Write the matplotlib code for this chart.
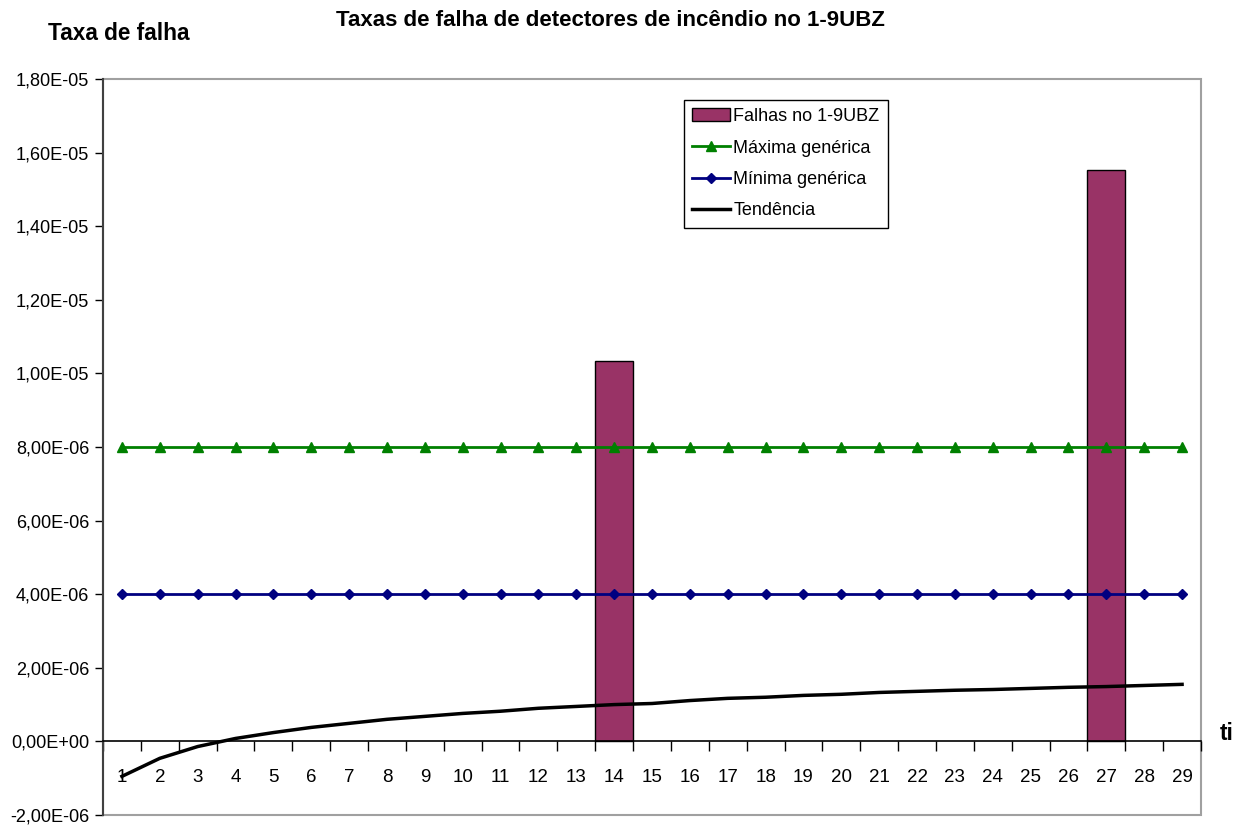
import matplotlib
matplotlib.use("Agg")
import matplotlib.pyplot as plt
from matplotlib.patches import Rectangle
from matplotlib.ticker import FuncFormatter, FixedLocator

plt.rcParams['font.family'] = ['Liberation Sans', 'DejaVu Sans']

categories = list(range(1, 30))
falhas = {14: 1.033e-05, 27: 1.554e-05}
maxima = [8.0e-06] * 29
minima = [4.0e-06] * 29
tendencia = [-0.95e-06, -0.46e-06, -0.14e-06, 0.08e-06, 0.24e-06, 0.38e-06,
             0.49e-06, 0.60e-06, 0.68e-06, 0.76e-06, 0.82e-06, 0.90e-06,
             0.95e-06, 1.00e-06, 1.03e-06, 1.11e-06, 1.17e-06, 1.20e-06,
             1.25e-06, 1.28e-06, 1.33e-06, 1.36e-06, 1.39e-06, 1.41e-06,
             1.44e-06, 1.47e-06, 1.49e-06, 1.52e-06, 1.55e-06]
yticks = [-2e-06, 0, 2e-06, 4e-06, 6e-06, 8e-06, 1e-05, 1.2e-05, 1.4e-05, 1.6e-05, 1.8e-05]

fig = plt.figure(figsize=(12.5, 8.27), dpi=100)
ax = fig.add_axes([103/1250, 12/827, 1098/1250, 736/827])

bx = list(falhas.keys())
bv = list(falhas.values())
hb = ax.bar(bx, bv, width=1.0, color='#993366', edgecolor='black', linewidth=1.0,
            label='Falhas no 1-9UBZ', zorder=2)
hmax, = ax.plot(categories, maxima, color='#008000', lw=2, marker='^', ms=7.5,
                label='Máxima genérica', zorder=3)
hmin, = ax.plot(categories, minima, color='#000080', lw=2, marker='D', ms=5.5,
                label='Mínima genérica', zorder=3)
htr, = ax.plot(categories, tendencia, color='black', lw=2.5, label='Tendência', zorder=4)

ax.set_xlim(0.5, 29.5)
ax.set_ylim(-2e-06, 1.8e-05)

def fmt(v, pos):
    if abs(v) < 1e-15:
        return '0,00E+00'
    s = '%.2E' % v
    return s.replace('.', ',')

ax.yaxis.set_major_locator(FixedLocator(yticks))
ax.yaxis.set_major_formatter(FuncFormatter(fmt))
ax.tick_params(axis='y', direction='out', length=6, width=1, color='black',
               labelsize=13.1, pad=4)

ax.set_xticks(categories)
ax.set_xticklabels([str(c) for c in categories])
ax.set_xticks([c + 0.5 for c in [0] + categories], minor=True)
ax.tick_params(axis='x', which='major', length=0, labelsize=13.5, pad=20)
ax.tick_params(axis='x', which='minor', direction='out', length=7, width=1, color='black')

for s in ['top', 'right']:
    ax.spines[s].set_visible(False)
ax.spines['bottom'].set_position(('data', 0))
ax.spines['bottom'].set_color('black')
ax.spines['bottom'].set_linewidth(1.2)
ax.spines['left'].set_color('#404040')
ax.spines['left'].set_linewidth(1.5)

frame = Rectangle((0, 0), 1, 1, transform=ax.transAxes, fill=False,
                  edgecolor='#a0a0a0', linewidth=1.5, clip_on=False, zorder=0)
ax.add_patch(frame)

leg = ax.legend([hb, hmax, hmin, htr],
                ['Falhas no 1-9UBZ', 'Máxima genérica', 'Mínima genérica', 'Tendência'],
                loc='upper left', bbox_to_anchor=(0.529, 0.9715), borderaxespad=0,
                fontsize=13, frameon=True, fancybox=False, edgecolor='black',
                framealpha=1, handlelength=2.1, handletextpad=0.2,
                labelspacing=0.8, borderpad=0.45, markerscale=1.0, numpoints=1)
leg.get_frame().set_linewidth(1.0)

fig.text(610/1250, 1 - 20/827, 'Taxas de falha de detectores de incêndio no 1-9UBZ',
         ha='center', va='center', fontsize=16, fontweight='bold')
fig.text(119/1250, 1 - 33/827, 'Taxa de falha', ha='center', va='center',
         fontsize=16.3, fontweight='bold')
fig.text(1227/1250, 1 - 733/827, 'ti', ha='center', va='center',
         fontsize=16.3, fontweight='bold')

fig.savefig('out.png', dpi=100, facecolor='white')
